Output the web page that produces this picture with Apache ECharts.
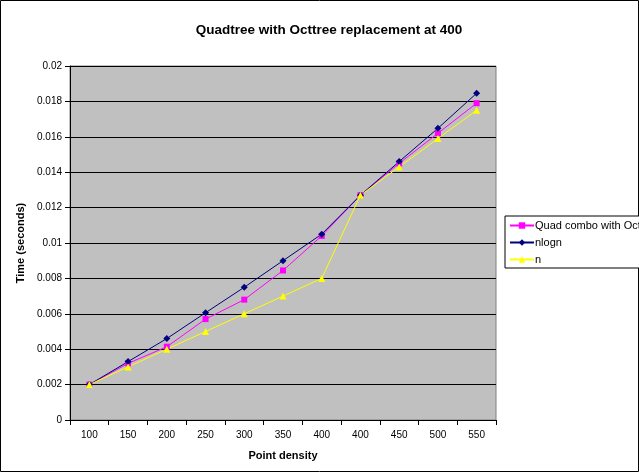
<!DOCTYPE html>
<html>
<head>
<meta charset="utf-8">
<script src="https://cdn.jsdelivr.net/npm/echarts@6/dist/echarts.min.js"></script>
<style>
  html, body { margin: 0; padding: 0; background: #fff; }
  #chart { width: 639px; height: 472px; }
</style>
</head>
<body>
<div id="chart"></div>
<script>
// Point density categories (the 400 step appears twice: before and after the switch)
const categories = ['100', '150', '200', '250', '300', '350', '400', '400', '450', '500', '550'];

// Measured times in seconds
const quadCombo = [0.0020, 0.0032, 0.00414, 0.0057, 0.0068, 0.00845, 0.0104, 0.0127, 0.0145, 0.0162, 0.0179];
const nlogn     = [0.0020, 0.0033, 0.0046, 0.00606, 0.0075, 0.0090, 0.0105, 0.0127, 0.0146, 0.01648, 0.01846];
const nLinear   = [0.0020, 0.0030, 0.0040, 0.0050, 0.0060, 0.0070, 0.0080, 0.0127, 0.0143, 0.0159, 0.0175];

// Y axis ticks
const yTicks = { min: 0, max: 0.02, step: 0.002 };

const FONT = 'Liberation Sans, Arial, sans-serif';

const chart = echarts.init(document.getElementById('chart'), null, { renderer: 'canvas' });

chart.setOption({
  animation: false,
  backgroundColor: '#ffffff',
  textStyle: { fontFamily: FONT },
  title: {
    text: 'Quadtree with Octtree replacement at 400',
    left: 324, top: 18, textAlign: 'center',
    textStyle: { fontFamily: FONT, fontSize: 13.5, fontWeight: 'bold', color: '#000' }
  },
  graphic: [{
    type: 'rect',
    shape: { x: 0.5, y: 0.5, width: 638, height: 471 },
    style: { fill: 'none', stroke: '#000', lineWidth: 1 },
    silent: true
  }],
  legend: {
    orient: 'vertical',
    left: 505, top: 216,
    padding: [4, 80, 3, 4],
    itemGap: 6,
    itemWidth: 24, itemHeight: 8,
    borderColor: '#000', borderWidth: 1,
    backgroundColor: '#fff',
    textStyle: { fontFamily: FONT, fontSize: 11, color: '#000', padding: [0, 0, 0, -4] },
    data: ['Quad combo with Octtree', 'nlogn', 'n']
  },
  grid: {
    left: 70, top: 66, width: 426, height: 354,
    show: true, backgroundColor: '#C0C0C0', borderColor: '#808080', borderWidth: 1
  },
  xAxis: {
    type: 'category',
    data: categories,
    boundaryGap: true,
    name: 'Point density',
    nameLocation: 'middle',
    nameGap: 30,
    nameTextStyle: { fontFamily: FONT, fontSize: 11, fontWeight: 'bold', color: '#000' },
    axisLine: { lineStyle: { color: '#000', width: 1 } },
    axisTick: { show: true, interval: 0, length: 5, lineStyle: { color: '#000' } },
    axisLabel: { interval: 0, margin: 10, fontFamily: FONT, fontSize: 10, color: '#000' },
    splitLine: { show: false }
  },
  yAxis: {
    type: 'value',
    min: yTicks.min, max: yTicks.max, interval: yTicks.step,
    name: 'Time (seconds)',
    nameLocation: 'middle',
    nameGap: 42,
    nameTextStyle: { fontFamily: FONT, fontSize: 11, fontWeight: 'bold', color: '#000' },
    axisLine: { show: true, lineStyle: { color: '#000', width: 1 } },
    axisTick: { show: true, length: 5, lineStyle: { color: '#000' } },
    axisLabel: {
      margin: 8, fontFamily: FONT, fontSize: 10, color: '#000',
      formatter: v => String(+v.toFixed(3))
    },
    splitLine: { show: true, lineStyle: { color: '#000', width: 1 } }
  },
  series: [
    {
      name: 'Quad combo with Octtree',
      type: 'line',
      data: quadCombo,
      symbol: 'rect', symbolSize: 6,
      color: '#FF00FF',
      lineStyle: { color: '#FF00FF', width: 1 },
      itemStyle: { color: '#FF00FF' }
    },
    {
      name: 'nlogn',
      type: 'line',
      data: nlogn,
      symbol: 'diamond', symbolSize: 7,
      color: '#000080',
      lineStyle: { color: '#000080', width: 1 },
      itemStyle: { color: '#000080' }
    },
    {
      name: 'n',
      type: 'line',
      data: nLinear,
      symbol: 'triangle', symbolSize: 7,
      color: '#FFFF00',
      lineStyle: { color: '#FFFF00', width: 1 },
      itemStyle: { color: '#FFFF00' }
    }
  ]
});
</script>
</body>
</html>
